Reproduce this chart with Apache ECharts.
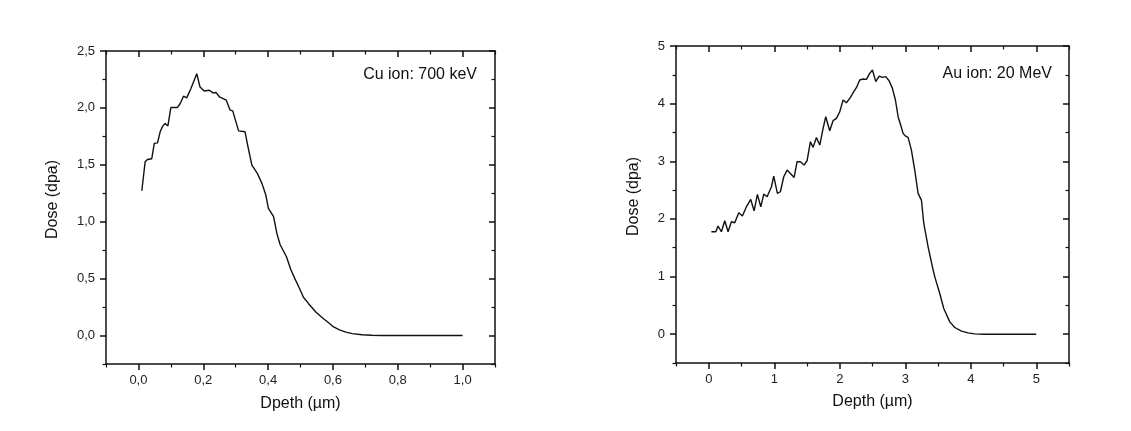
<!DOCTYPE html>
<html>
<head>
<meta charset="utf-8">
<script src="https://cdn.jsdelivr.net/npm/echarts@6/dist/echarts.min.js"></script>
<style>
html,body{margin:0;padding:0;background:#fff;}
#c{width:1131px;height:431px;}
</style>
</head>
<body>
<div id="c"></div>
<script>
// ---- Data: Cu ion 700 keV ----
var cuDepth = [0.0105,0.0207,0.028,0.041,0.049,0.059,0.067,0.075,0.082,0.091,0.100,0.120,0.129,0.139,0.149,0.162,0.180,0.190,0.203,0.219,0.230,0.240,0.250,0.271,0.283,0.291,0.309,0.329,0.338,0.350,0.367,0.381,0.393,0.401,0.417,0.427,0.437,0.457,0.470,0.483,0.496,0.509,0.525,0.548,0.570,0.586,0.601,0.620,0.640,0.660,0.690,0.720,0.750,0.800,0.900,1.000];
var cuDose  = [1.272,1.526,1.547,1.553,1.688,1.693,1.790,1.840,1.863,1.842,2.003,2.003,2.039,2.103,2.088,2.170,2.300,2.184,2.149,2.155,2.132,2.135,2.096,2.068,1.980,1.974,1.798,1.790,1.658,1.497,1.424,1.337,1.234,1.117,1.044,0.898,0.800,0.690,0.580,0.498,0.420,0.337,0.280,0.205,0.150,0.115,0.078,0.050,0.030,0.017,0.007,0.003,0.001,0.000,0.000,0.000];

// ---- Data: Au ion 20 MeV ----
var auDepth = [0.040,0.107,0.142,0.193,0.244,0.295,0.346,0.397,0.458,0.514,0.575,0.641,0.692,0.743,0.794,0.840,0.891,0.957,0.992,1.048,1.094,1.145,1.196,1.247,1.303,1.349,1.399,1.455,1.501,1.552,1.593,1.644,1.695,1.746,1.786,1.847,1.898,1.949,2.000,2.051,2.102,2.163,2.214,2.254,2.305,2.356,2.407,2.458,2.499,2.550,2.601,2.651,2.702,2.753,2.804,2.850,2.891,2.930,2.967,3.000,3.043,3.094,3.145,3.196,3.247,3.283,3.349,3.415,3.451,3.527,3.588,3.680,3.756,3.858,3.959,4.061,4.200,4.500,5.000];
var auDose  = [1.777,1.777,1.875,1.777,1.968,1.777,1.950,1.933,2.106,2.049,2.210,2.338,2.141,2.425,2.210,2.430,2.384,2.558,2.743,2.442,2.471,2.731,2.847,2.789,2.720,2.992,2.992,2.934,3.009,3.339,3.241,3.414,3.281,3.571,3.773,3.530,3.704,3.744,3.860,4.063,4.016,4.109,4.207,4.277,4.410,4.427,4.421,4.525,4.583,4.381,4.479,4.456,4.468,4.398,4.265,4.063,3.773,3.630,3.484,3.440,3.414,3.194,2.847,2.442,2.326,1.921,1.516,1.169,0.995,0.706,0.446,0.214,0.116,0.052,0.023,0.006,0.000,0.000,0.000];

// ---- Tick values ----
var cuXMajor = [0,0.2,0.4,0.6,0.8,1.0];
var cuXMinor = [-0.1,0.1,0.3,0.5,0.7,0.9,1.1];
var cuYMajor = [0,0.5,1.0,1.5,2.0,2.5];
var cuYMinor = [-0.25,0.25,0.75,1.25,1.75,2.25];
var auXMajor = [0,1,2,3,4,5];
var auXMinor = [-0.5,0.5,1.5,2.5,3.5,4.5,5.5];
var auYMajor = [0,1,2,3,4,5];
var auYMinor = [-0.5,0.5,1.5,2.5,3.5,4.5];

var FONT = 'Liberation Sans, Arial, sans-serif';
var INK = '#111';

function pairs(xs, ys){ var o=[]; for(var i=0;i<xs.length;i++){o.push([xs[i],ys[i]]);} return o; }
function comma(v){ return v.toFixed(1).replace('.', ','); }
function plain(v){ return String(Math.round(v)); }

function axisSet(dim, grid, min, max, major, minor, fmt, name, nameGap){
  var isX = dim === 'x';
  var main = {
    type:'value', gridIndex:grid, min:min, max:max,
    position: isX ? 'bottom' : 'left',
    name:name, nameLocation:'middle', nameGap:nameGap,
    nameRotate: isX ? 0 : 90,
    nameTextStyle:{fontFamily:FONT, fontSize:16, color:INK, padding: isX ? 0 : [0,0,0,16]},
    axisLine:{show:true, onZero:false, lineStyle:{color:INK, width:1.5}},
    axisTick:{show:true, inside:false, length:6, customValues:major, lineStyle:{color:INK, width:1.5}},
    axisLabel:{show:true, customValues:major, formatter:fmt, margin: isX ? 10 : 11,
               fontFamily:FONT, fontSize:13, color:'#222'},
    splitLine:{show:false}
  };
  var mainMinor = {
    type:'value', gridIndex:grid, min:min, max:max,
    position: isX ? 'bottom' : 'left',
    axisLine:{show:false, onZero:false},
    axisTick:{show:true, inside:false, length:3.5, customValues:minor, lineStyle:{color:INK, width:1.2}},
    axisLabel:{show:false}, splitLine:{show:false}
  };
  var mirror = {
    type:'value', gridIndex:grid, min:min, max:max,
    position: isX ? 'top' : 'right',
    axisLine:{show:true, onZero:false, lineStyle:{color:INK, width:1.5}},
    axisTick:{show:true, inside:true, length:6, customValues:major, lineStyle:{color:INK, width:1.5}},
    axisLabel:{show:false}, splitLine:{show:false}
  };
  var mirrorMinor = {
    type:'value', gridIndex:grid, min:min, max:max,
    position: isX ? 'top' : 'right',
    axisLine:{show:false, onZero:false},
    axisTick:{show:true, inside:true, length:3.5, customValues:minor, lineStyle:{color:INK, width:1.2}},
    axisLabel:{show:false}, splitLine:{show:false}
  };
  return [main, mainMinor, mirror, mirrorMinor];
}

var xAxes = [].concat(
  axisSet('x',0,-0.1,1.1,cuXMajor,cuXMinor,comma,'Dpeth (µm)',32),
  axisSet('x',1,-0.5,5.5,auXMajor,auXMinor,plain,'Depth (µm)',31)
);
var yAxes = [].concat(
  axisSet('y',0,-0.25,2.5,cuYMajor,cuYMinor,comma,'Dose (dpa)',45),
  axisSet('y',1,-0.5,5,auYMajor,auYMinor,plain,'Dose (dpa)',34)
);

var option = {
  animation:false,
  backgroundColor:'#fff',
  title:[
    {text:'Cu ion: 700 keV', right:654, top:67, padding:0,
     textStyle:{fontFamily:FONT, fontSize:16, fontWeight:'normal', color:INK}},
    {text:'Au ion: 20 MeV', right:79, top:66, padding:0,
     textStyle:{fontFamily:FONT, fontSize:16, fontWeight:'normal', color:INK}}
  ],
  grid:[
    {left:106, top:51, width:389, height:313, containLabel:false},
    {left:676, top:46, width:393, height:317, containLabel:false}
  ],
  xAxis:xAxes,
  yAxis:yAxes,
  series:[
    {type:'line', xAxisIndex:0, yAxisIndex:0, data:pairs(cuDepth,cuDose),
     showSymbol:false, symbol:'none', lineStyle:{color:INK, width:1.4}},
    {type:'line', xAxisIndex:4, yAxisIndex:4, data:pairs(auDepth,auDose),
     showSymbol:false, symbol:'none', lineStyle:{color:INK, width:1.4}}
  ]
};
echarts.init(document.getElementById('c')).setOption(option);
</script>
</body>
</html>
